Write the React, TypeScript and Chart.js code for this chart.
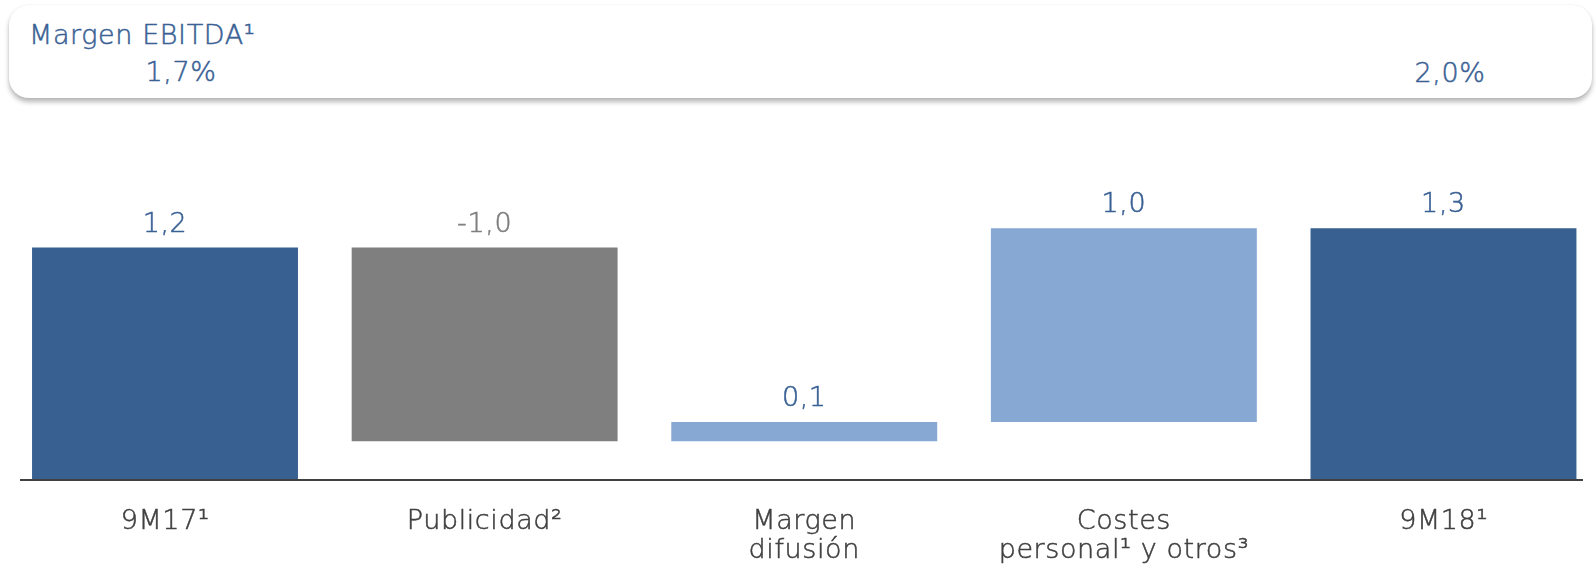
import React, { useEffect, useRef } from "react";
import { Chart, registerables } from "chart.js";

Chart.register(...registerables);

// ---- data ----
const categories: (string | string[])[] = [
  "9M17¹",
  "Publicidad²",
  ["Margen", "difusión"],
  ["Costes", "personal¹ y otros³"],
  "9M18¹",
];
const deltas: number[] = [1.2, -1.0, 0.1, 1.0, 1.3];
const kinds: string[] = ["total", "change", "change", "change", "total"];
const headerTitle = "Margen EBITDA¹";
const marginStart = "1,7%";
const marginEnd = "2,0%";

const C_DARK = "#386091";
const C_GRAY = "#7f7f7f";
const C_LIGHT = "#87a8d3";
const C_TEXT_BLUE = "#3a6194";
const C_TICK = "#404040";
const FONT = "'DejaVu Sans', sans-serif";
const WEIGHT = 200;
const SIZE = 27;
const STROKE = 0.5;

function buildRanges(): [number, number][] {
  let run = 0;
  return deltas.map((d, i) => {
    if (kinds[i] === "total") {
      run = d;
      return [0, d] as [number, number];
    }
    const start = run;
    run = run + d;
    return [start, run] as [number, number];
  });
}

const fmt = (v: number) => v.toFixed(1).replace(".", ",");

export default function App() {
  const ref = useRef<HTMLCanvasElement | null>(null);

  useEffect(() => {
    if (!ref.current) return;
    const ranges = buildRanges();
    const colors = deltas.map((d, i) =>
      kinds[i] === "total" ? C_DARK : d < 0 ? C_GRAY : C_LIGHT
    );
    const labelColors = deltas.map((d) => (d < 0 ? C_GRAY : C_TEXT_BLUE));

    const spacing = {
      id: "spacing",
      beforeDraw(chart: any) {
        (chart.ctx as any).letterSpacing = "0.6px";
      },
    };

    const valueLabels = {
      id: "valueLabels",
      afterDatasetsDraw(chart: any) {
        const ctx = chart.ctx;
        const meta = chart.getDatasetMeta(0);
        ctx.save();
        ctx.font = `${WEIGHT} ${SIZE}px ${FONT}`;
        ctx.textAlign = "center";
        ctx.textBaseline = "alphabetic";
        ctx.lineWidth = STROKE;
        meta.data.forEach((bar: any, i: number) => {
          const top = Math.min(bar.y, bar.base);
          ctx.fillStyle = labelColors[i];
          ctx.strokeStyle = labelColors[i];
          ctx.fillText(fmt(deltas[i]), bar.x, top - 16);
          ctx.strokeText(fmt(deltas[i]), bar.x, top - 16);
        });
        ctx.restore();
      },
    };

    const axisLine = {
      id: "axisLine",
      afterDatasetsDraw(chart: any) {
        const ctx = chart.ctx;
        const y = chart.scales.y.getPixelForValue(0);
        const { left, right } = chart.chartArea;
        ctx.save();
        ctx.strokeStyle = C_TICK;
        ctx.lineWidth = 2;
        ctx.beginPath();
        ctx.moveTo(left, y);
        ctx.lineTo(right, y);
        ctx.stroke();
        ctx.restore();
      },
    };

    const chart = new Chart(ref.current, {
      type: "bar",
      data: {
        datasets: [
          {
            data: ranges.map((r, i) => ({ x: i, y: r })) as any,
            backgroundColor: colors,
            borderWidth: 0,
            barPercentage: 0.832,
            categoryPercentage: 1,
          },
        ],
      },
      options: {
        animation: false,
        responsive: false,
        layout: { padding: { left: 20, right: 13, top: 170, bottom: 0 } },
        plugins: {
          legend: { display: false },
          tooltip: { enabled: false },
          title: { display: false },
        },
        scales: {
          x: {
            type: "linear",
            offset: false,
            min: -0.4537,
            max: 4.4365,
            grid: { display: false, drawTicks: false },
            border: { display: false },
            afterFit(scale: any) {
              scale.height = 90;
            },
            afterBuildTicks(scale: any) {
              scale.ticks = categories.map((_, i) => ({ value: i }));
            },
            ticks: {
              autoSkip: false,
              maxRotation: 0,
              padding: 27,
              color: C_TICK,
              textStrokeColor: C_TICK,
              textStrokeWidth: STROKE,
              font: { family: FONT, size: SIZE, weight: WEIGHT as any, lineHeight: 1.08 },
              callback: (v: any) => categories[Math.round(Number(v))] as any,
            } as any,
          },
          y: {
            display: false,
            min: 0,
            max: 1.6,
          },
        },
      },
      plugins: [spacing, valueLabels, axisLine],
    });
    return () => chart.destroy();
  }, []);

  const txt: React.CSSProperties = {
    position: "absolute",
    fontSize: SIZE,
    lineHeight: "26px",
    fontWeight: WEIGHT,
    letterSpacing: "0.6px",
    color: C_TEXT_BLUE,
    WebkitTextStroke: `${STROKE}px ${C_TEXT_BLUE}`,
    whiteSpace: "nowrap",
  } as React.CSSProperties;

  return (
    <div
      style={{
        position: "fixed",
        left: 0,
        top: 0,
        width: 1596,
        height: 570,
        overflow: "hidden",
        background: "#fff",
        fontFamily: FONT,
      }}
    >
      <div
        style={{
          position: "absolute",
          left: 9,
          top: 5,
          width: 1583,
          height: 93,
          borderRadius: 20,
          background: "#fff",
          boxShadow: "0 4px 5px rgba(0,0,0,0.28), 0 0 2px rgba(0,0,0,0.08)",
        }}
      />
      <div style={{ ...txt, left: 29, top: 22 }}>{headerTitle}</div>
      <div style={{ ...txt, left: 181 - 60, width: 120, textAlign: "center", top: 59 }}>
        {marginStart}
      </div>
      <div style={{ ...txt, left: 1450 - 60, width: 120, textAlign: "center", top: 60 }}>
        {marginEnd}
      </div>
      <canvas
        ref={ref}
        width={1596}
        height={570}
        style={{ position: "absolute", left: 0, top: 0, width: 1596, height: 570 }}
      />
    </div>
  );
}
